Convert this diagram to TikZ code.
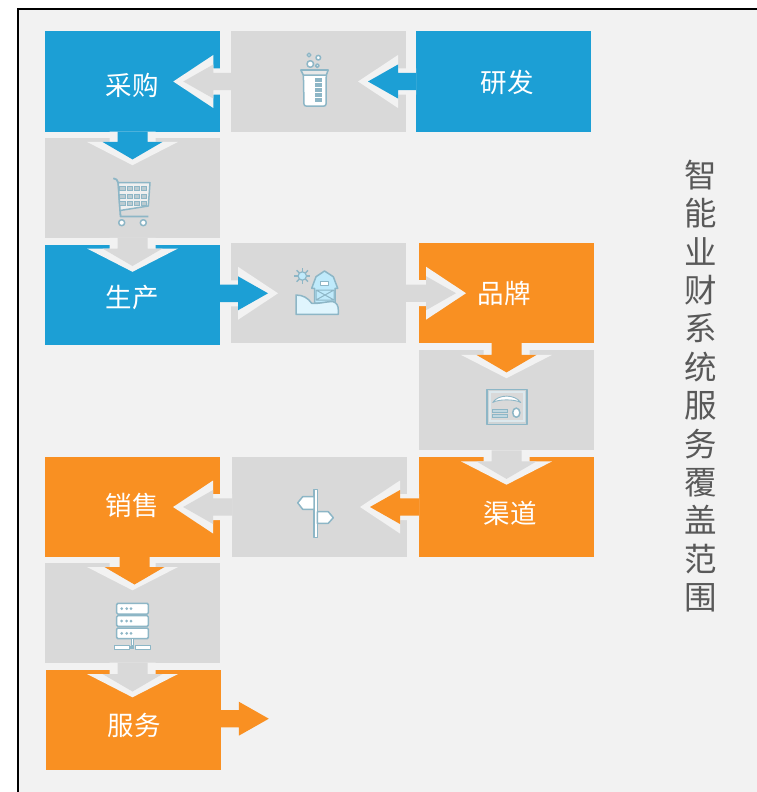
\documentclass[tikz,border=0pt]{standalone}
\usepackage{fontspec}
\setmainfont{Noto Sans CJK SC}
\definecolor{bluebox}{HTML}{1C9FD5}
\definecolor{orangebox}{HTML}{F99022}
\definecolor{graybox}{HTML}{D9D9D9}
\definecolor{paper}{HTML}{F2F2F2}
\definecolor{iconline}{HTML}{8DB6C6}
\definecolor{iconfill}{HTML}{FFFFFF}
\definecolor{titlegray}{HTML}{595959}
\tikzset{
  panel/.style={inner sep=0pt,outer sep=0pt,minimum width=175pt,minimum height=100pt,draw=none},
  bluepanel/.style={panel,fill=bluebox},
  orangepanel/.style={panel,fill=orangebox},
  graypanel/.style={panel,fill=graybox},
  boxlabel/.style={text=white,inner sep=0pt,font=\fontsize{26.5}{30}\selectfont},
  icon/.style={draw=iconline,fill=iconfill,line width=1.5pt,line join=round},
  iconsoft/.style={draw=iconline,fill=iconline!70,line width=.8pt},
}
% horizontal block arrow: anchor, angle, colour, shaft length
\newcommand{\harrow}[4]{%
  \begin{scope}[shift={#1},rotate=#2]
    \fill[paper] (0,13)--(#4,13)--(#4,26.5)--(#4+40,0)--(#4,-26.5)--(#4,-13)--(0,-13)--cycle;
    \fill[#3] (0,8.7)--(#4,8.7)--(#4,17)--(#4+30,0)--(#4,-17)--(#4,-8.7)--(0,-8.7)--cycle;
  \end{scope}}
% downward block arrow: anchor, colour, shaft length, sideways offset of inner arrow
\newcommand{\varrow}[4]{%
  \begin{scope}[shift={#1},rotate=-90]
    \fill[paper] (0,23)--(#3,23)--(#3,45.5)--(#3+23.3,0)--(#3,-45.5)--(#3,-23)--(0,-23)--cycle;
    \fill[#2] (0,15+#4)--(#3,15+#4)--(#3,30+#4)--(#3+17.5,#4)--(#3,-30+#4)--(#3,-15+#4)--(0,-15+#4)--cycle;
  \end{scope}}
\begin{document}
\begin{tikzpicture}[x=1pt,y=-1pt]
\useasboundingbox (0,0) rectangle (756,792);
\fill[white] (0,0) rectangle (756,792);
\draw[fill=paper,draw=black,line width=2.2pt] (17.7,8.7) rectangle (780,820);

% panels
\node[bluepanel]   (caigou)  at (132.5,81.5) {};
\node[graypanel]   (g1)      at (318.3,81.5) {};
\node[bluepanel]   (yanfa)   at (503.5,81.5) {};
\node[graypanel]   (g2)      at (132.5,187.9) {};
\node[bluepanel]   (shengchan) at (132.5,294.6) {};
\node[graypanel]   (g3)      at (318.5,293.2) {};
\node[orangepanel] (pinpai)  at (506.5,293.2) {};
\node[graypanel]   (g4)      at (506.5,400.4) {};
\node[orangepanel] (qudao)   at (506.5,507) {};
\node[graypanel]   (g5)      at (319.6,507) {};
\node[orangepanel] (xiaoshou) at (132.5,507) {};
\node[graypanel]   (g6)      at (132.5,612.7) {};
\node[orangepanel] (fuwu)    at (133,719.6) {};

% arrows
\harrow{(yanfa.west)}{180}{bluebox}{18}
\harrow{(g1.west)}{180}{graybox}{17.5}
\varrow{(caigou.south)}{bluebox}{10.4}{0}
\varrow{(g2.south)}{graybox}{10.6}{0}
\harrow{([yshift=1.3pt]shengchan.east)}{0}{bluebox}{18}
\harrow{(g3.east)}{0}{graybox}{20}
\varrow{(pinpai.south)}{orangebox}{11.7}{0}
\varrow{(g4.south)}{graybox}{11}{0}
\harrow{(qudao.west)}{180}{orangebox}{19}
\harrow{(g5.west)}{180}{graybox}{19}
\varrow{(xiaoshou.south)}{orangebox}{10}{-2}
\varrow{(g6.south)}{graybox}{11.3}{0}
\coordinate (fuwuout) at ([yshift=0.9pt]fuwu.east);
\begin{scope}[shift={(fuwuout)}]
  \fill[orangebox] (0,8.7)--(18.3,8.7)--(18.3,17)--(48.3,0)--(18.3,-17)--(18.3,-8.7)--(0,-8.7)--cycle;
\end{scope}

% labels
\node[boxlabel] (t1) at (132,85.5) {采购};
\node[boxlabel] (t2) at (507,82.5) {研发};
\node[boxlabel] (t3) at (132,297.5) {生产};
\node[boxlabel] (t4) at (504,293.5) {品牌};
\node[boxlabel] (t5) at (510,513.5) {渠道};
\node[boxlabel] (t6) at (132,505.5) {销售};
\node[boxlabel] (t7) at (134,725.5) {服务};
\node[text=titlegray,inner sep=0pt,align=center,font=\fontsize{32.5}{38.4}\selectfont] (title) at (700.5,386)
  {智\\能\\业\\财\\系\\统\\服\\务\\覆\\盖\\范\\围};

% beaker icon
\draw[icon] (303.3,71) -- (304,104) .. controls (304,105.5) and (305,106) .. (306,106) -- (324,106) .. controls (325,106) and (326,105.5) .. (326,104) -- (326.3,71) -- cycle;
\draw[icon,fill=graybox!60!white] (300.8,70) -- (328.2,70) -- (326.3,75) -- (303.3,75) -- cycle;
\foreach \yy in {80,85,90,95,100} \fill[iconline] (315,\yy-1.7) rectangle (321.7,\yy+1.7);
\draw[icon] (309,55) circle (1.9);
\draw[icon] (318.3,57.7) circle (2.3);
\draw[icon] (310.3,64) circle (3.3);
\draw[icon] (317.3,65.7) circle (1.9);

% cart icon
\draw[icon,fill=none,line width=1.8pt] (113.3,178.3) -- (116.5,179.5) -- (118.3,183) -- (120.5,216.5) -- (148.3,216.5);
\draw[icon,fill=white!60!graybox] (118.3,182.7) -- (150,182.7) -- (148.3,206) -- (120,210.5) -- cycle;
\foreach \xx in {119.8,127,134.2,141.2}
  \foreach \yy in {186.8,194,201}
    \draw[iconsoft,fill=graybox!60!iconline] (\xx,\yy) rectangle ++(5.4,4);
\draw[icon] (121.7,222.7) circle (3);
\draw[icon] (143.3,222.7) circle (3);

% farm icon
\foreach \aa in {0,45,...,315} \draw[iconline,line width=1.4pt] (302.3,276) -- ++(\aa:8);
\fill[white!75!cyan,draw=iconline,line width=1.2pt] (302.3,276) circle (4.2);
\draw[icon,fill=white!75!cyan] (311.7,288.3) -- (316,276.7) -- (324.5,271) -- (333.3,276.7) -- (337.7,288.3) -- (335,288.3) -- (335,303) -- (314.5,303) -- (314.5,288.3) -- cycle;
\draw[icon,fill=white,line width=1pt] (320,281) rectangle (328.3,285.7);
\draw[icon,fill=none,line width=1pt] (316,290) rectangle (334,300) (316,290) -- (334,300) (334,290) -- (316,300);
\draw[icon,fill=white!88!cyan] (296,295) .. controls (303,295) and (308,298) .. (311.7,303.3) .. controls (320,304) and (328,301) .. (333.3,301.7) .. controls (337,303) and (338.3,306) .. (338.3,310) -- (338.3,314.3) -- (296,314.3) -- cycle;

% certificate icon
\draw[icon,line width=1.6pt,fill=graybox!85!iconline] (486.7,389.3) rectangle (526.7,424.3);
\draw[draw=white!70!iconline,line width=1.8pt,fill=graybox] (489.6,392.3) rectangle (523.8,421.3);
\draw[icon,line width=.9pt] (492.7,402.5) .. controls (498,394) and (515,394) .. (520.7,402.5) .. controls (515,399) and (498,399) .. (492.7,402.5) -- cycle;
\draw[iconsoft,fill=iconline!55] (492.3,409) rectangle (507.7,412.7);
\draw[iconsoft,fill=iconline!55] (492.3,414) rectangle (507.7,417);
\draw[icon] (516.3,412.7) ellipse (3.6 and 4.6);

% signpost icon
\draw[icon] (314,489.3) rectangle (317.3,537.7);
\draw[icon] (297.7,502.8) -- (302.7,496.7) -- (314,496.7) -- (314,509.3) -- (302.7,509.3) -- cycle;
\draw[icon] (317.3,511.7) -- (328.3,511.7) -- (333.3,517.7) -- (328.3,523.3) -- (317.3,523.3) -- cycle;

% server icon
\foreach \yy in {603.3,615.7,628} {
  \draw[icon,rounded corners=1.2pt] (116.7,\yy) rectangle (148.3,\yy+10.7);
  \foreach \xx in {121.7,126.7,131} \fill[iconline] (\xx,\yy+5.3) circle (1.5);
}
\draw[icon,line width=1pt] (131,638.7) rectangle (133.3,645);
\draw[icon,line width=1pt] (114.3,645) rectangle (129,649.3);
\draw[icon,line width=1pt] (135.3,645) rectangle (150.3,649.3);
\fill[iconline] (130.3,645.5) rectangle (134,649);
\end{tikzpicture}
\end{document}
